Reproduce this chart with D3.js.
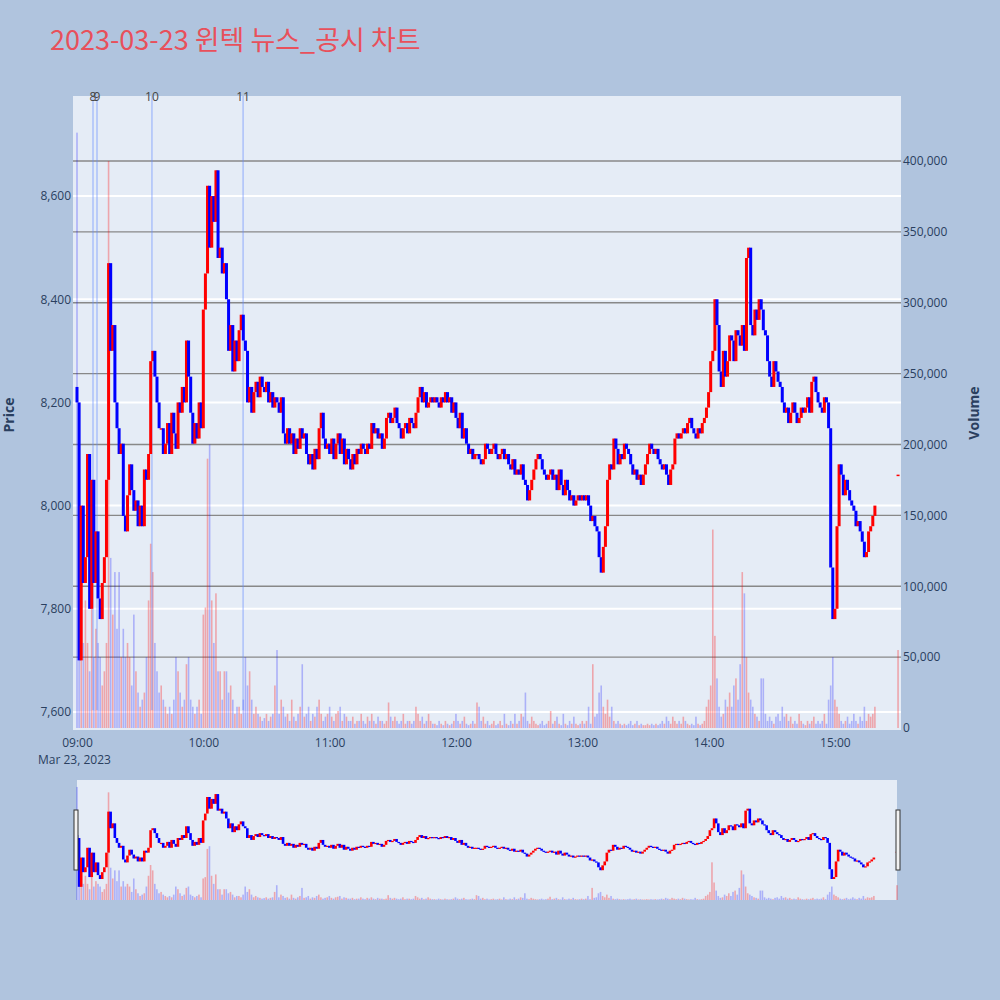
<!DOCTYPE html>
<html><head><meta charset="utf-8">
<script src="https://cdn.jsdelivr.net/npm/d3@7"></script>
<style>body{margin:0;background:#b0c4de}svg{display:block}</style>
</head><body><svg id="c" width="1000" height="1000"></svg>
<script>
const closes = [
8200,7700,8000,7850,7900,8100,7800,8050,7850,7950,
7820,7780,7850,7900,8050,8470,8300,8350,8200,8150,
8100,8120,7980,7950,8020,8080,8030,7990,8010,7960,
8000,7960,8070,8050,8100,8280,8300,8250,8200,8150,
8150,8100,8120,8160,8100,8180,8140,8110,8200,8180,
8230,8200,8320,8250,8180,8120,8160,8130,8200,8150,
8380,8450,8620,8500,8600,8550,8650,8480,8500,8450,
8470,8400,8300,8350,8260,8320,8280,8340,8370,8320,
8300,8200,8230,8180,8220,8240,8210,8250,8230,8220,
8240,8200,8220,8190,8210,8200,8180,8210,8140,8120,
8150,8120,8140,8100,8130,8110,8150,8130,8140,8100,
8080,8100,8070,8110,8090,8150,8180,8130,8110,8120,
8100,8130,8090,8120,8140,8100,8130,8080,8110,8090,
8070,8100,8080,8110,8100,8120,8110,8100,8120,8110,
8160,8140,8150,8130,8140,8110,8130,8170,8180,8160,
8170,8190,8160,8150,8130,8150,8160,8140,8170,8160,
8150,8180,8210,8230,8200,8220,8190,8200,8210,8200,
8210,8200,8190,8210,8200,8220,8200,8210,8180,8200,
8170,8150,8180,8130,8150,8120,8100,8110,8090,8100,
8100,8090,8080,8090,8120,8110,8100,8110,8120,8100,
8090,8100,8110,8090,8100,8080,8070,8090,8060,8070,
8060,8080,8050,8040,8010,8030,8050,8070,8090,8100,
8090,8070,8060,8050,8060,8070,8050,8060,8030,8070,
8040,8020,8050,8030,8010,8020,8000,8010,8020,8010,
8020,8010,8020,8000,7970,7980,7960,7950,7900,7870,
7920,7960,8050,8080,8070,8130,8110,8080,8100,8090,
8120,8110,8100,8080,8060,8070,8050,8060,8040,8060,
8080,8100,8120,8110,8100,8110,8090,8080,8070,8080,
8060,8040,8070,8080,8130,8140,8130,8140,8150,8140,
8160,8170,8150,8140,8130,8150,8140,8160,8170,8190,
8220,8280,8300,8400,8350,8260,8230,8300,8250,8280,
8330,8320,8280,8340,8330,8310,8350,8300,8480,8500,
8350,8330,8380,8360,8400,8380,8340,8330,8280,8250,
8230,8280,8260,8240,8230,8200,8180,8190,8160,8180,
8200,8180,8160,8170,8190,8180,8190,8210,8180,8240,
8250,8220,8200,8190,8180,8210,8200,8150,7880,7780,
7800,7960,8080,8060,8020,8050,8030,8010,8000,7990,
7960,7970,7950,7930,7900,7910,7950,7960,7980,8000];
const firstOpen = 8230;
const closeAuctionPrice = 8060;
const volumes = [
420000,70000,110000,60000,90000,60000,40000,100000,50000,70000,
60000,50000,30000,40000,60000,400000,120000,80000,110000,70000,
110000,50000,70000,50000,60000,50000,30000,80000,40000,25000,
15000,20000,25000,50000,90000,130000,110000,60000,40000,25000,
30000,20000,15000,10000,15000,10000,20000,50000,40000,25000,
15000,20000,45000,50000,20000,15000,10000,15000,20000,10000,
80000,85000,190000,200000,90000,60000,95000,40000,40000,20000,
40000,40000,25000,30000,20000,10000,15000,15000,10000,20000,
50000,30000,40000,20000,10000,15000,10000,8000,5000,7000,
10000,5000,8000,10000,30000,55000,10000,20000,15000,8000,
10000,5000,20000,8000,5000,10000,15000,45000,8000,10000,
15000,5000,10000,8000,15000,20000,10000,5000,8000,10000,
15000,8000,5000,10000,12000,15000,5000,10000,8000,5000,
5000,8000,3000,5000,5000,10000,5000,3000,8000,5000,
10000,5000,3000,8000,5000,5000,3000,5000,18000,8000,
5000,8000,5000,3000,5000,10000,3000,5000,5000,3000,
5000,15000,10000,5000,8000,3000,5000,10000,5000,3000,
3000,2000,5000,3000,2000,5000,3000,2000,3000,5000,
10000,5000,3000,5000,8000,3000,2000,3000,5000,3000,
18000,15000,5000,8000,3000,5000,2000,3000,5000,2000,
3000,5000,2000,10000,3000,2000,5000,3000,10000,3000,
5000,10000,8000,25000,5000,3000,8000,5000,3000,2000,
3000,5000,2000,3000,5000,12000,3000,5000,8000,3000,
2000,10000,3000,2000,5000,3000,8000,3000,2000,3000,
5000,3000,5000,15000,3000,45000,8000,10000,25000,30000,
15000,10000,20000,8000,15000,5000,3000,5000,3000,2000,
3000,2000,3000,5000,2000,3000,5000,2000,3000,2000,
2000,3000,2000,3000,2000,3000,2000,3000,5000,3000,
8000,5000,3000,8000,5000,3000,5000,3000,8000,5000,
3000,2000,3000,2000,8000,3000,2000,3000,5000,15000,
20000,30000,140000,65000,35000,15000,8000,10000,20000,15000,
25000,15000,30000,35000,20000,45000,110000,95000,50000,25000,
20000,15000,10000,8000,5000,35000,35000,10000,5000,8000,
5000,3000,8000,10000,5000,15000,8000,10000,5000,8000,
3000,5000,3000,10000,5000,3000,2000,5000,3000,5000,
8000,3000,5000,3000,5000,10000,3000,20000,30000,50000,
20000,15000,10000,5000,3000,5000,8000,3000,5000,10000,
5000,3000,8000,5000,15000,5000,10000,8000,10000,15000];
const closeAuctionVolume = 55000;
const eventLabels = ["8","9","10","11"];
const eventMinutes = [7.6,9.5,35.6,78.9];
const priceTicks = [7600,7800,8000,8200,8400,8600];
const volumeTicks = [0,50000,100000,150000,200000,250000,300000,350000,400000];

const base = new Date(2023,2,23,9,0);
const t = m => new Date(base.getTime()+m*60000);
const candles = closes.map((c,i)=>{const o=i?closes[i-1]:firstOpen;return {t:t(i),o,c,v:volumes[i]};});
candles.push({t:t(390),o:closeAuctionPrice,c:closeAuctionPrice,v:closeAuctionVolume,auction:true});

const svg = d3.select("#c");
const L=73,R=901,T=96,B=730;
const x = d3.scaleTime().domain([t(-1.9),t(391.4)]).range([L,R]);
const y = d3.scaleLinear().domain([7565,8794]).range([B,T]);
const yv = d3.scaleLinear().domain([-1411,445855]).range([B,T]);
const up = d => d.c>=d.o;

svg.append("text").attr("x",50).attr("y",50).attr("fill","#e8505b").attr("font-family","Noto Sans CJK KR, sans-serif").attr("font-size",27).text("2023-03-23 윈텍 뉴스_공시 차트");
svg.append("rect").attr("x",L).attr("y",T).attr("width",R-L).attr("height",B-T).attr("fill","#e5ecf6");
svg.append("g").selectAll("line").data(priceTicks).join("line").attr("x1",L).attr("x2",R).attr("y1",d=>y(d)).attr("y2",d=>y(d)).attr("stroke","#fff").attr("stroke-width",2);
svg.append("g").selectAll("line").data(volumeTicks.slice(1)).join("line").attr("x1",L).attr("x2",R).attr("y1",d=>yv(d)).attr("y2",d=>yv(d)).attr("stroke","#888").attr("stroke-width",1.3);

// volume
svg.append("g").selectAll("rect").data(candles).join("rect")
 .attr("x",d=>x(d.t)-0.8).attr("width",1.6).attr("y",d=>yv(d.v)).attr("height",d=>yv(0)-yv(d.v))
 .attr("fill",d=>up(d)?"rgba(255,0,0,0.3)":"rgba(0,0,255,0.25)");
// events
const eg = svg.append("g");
eventMinutes.forEach((m,i)=>{
 eg.append("line").attr("x1",x(t(m))).attr("x2",x(t(m))).attr("y1",T).attr("y2",B-20).attr("stroke","rgba(100,140,255,0.45)").attr("stroke-width",1.5);
 eg.append("text").attr("x",x(t(m))).attr("y",T+5).attr("text-anchor","middle").attr("font-family","Open Sans, sans-serif").attr("font-size",12).attr("fill","#444").text(eventLabels[i]);
});
// candles
svg.append("g").selectAll("rect").data(candles).join("rect")
 .attr("x",d=>x(d.t)-1.5).attr("width",3)
 .attr("y",d=>y(Math.max(d.o,d.c))).attr("height",d=>Math.max(1.5,Math.abs(y(d.o)-y(d.c))))
 .attr("fill",d=>up(d)?"#ff0000":"#0000ff");

const font="Open Sans, sans-serif";
const ax = svg.append("g").attr("transform",`translate(0,${B})`).call(d3.axisBottom(x).ticks(d3.timeHour.every(1)).tickFormat(d3.timeFormat("%H:%M")).tickSize(0).tickPadding(8));
ax.select(".domain").remove(); ax.selectAll("text").attr("font-family",font).attr("font-size",12).attr("fill","#2a3f5f");
svg.append("text").attr("x",38).attr("y",764).attr("font-family",font).attr("font-size",12).attr("fill","#2a3f5f").text("Mar 23, 2023");
const ay = svg.append("g").attr("transform",`translate(${L},0)`).call(d3.axisLeft(y).tickValues(priceTicks).tickFormat(d3.format(",")).tickSize(0).tickPadding(2));
ay.select(".domain").remove(); ay.selectAll("text").attr("font-family",font).attr("font-size",12).attr("fill","#2a3f5f");
const avv = svg.append("g").attr("transform",`translate(${R},0)`).call(d3.axisRight(yv).tickValues(volumeTicks).tickFormat(d3.format(",")).tickSize(0).tickPadding(2));
avv.select(".domain").remove(); avv.selectAll("text").attr("font-family",font).attr("font-size",12).attr("fill","#2a3f5f");
svg.append("text").attr("transform","translate(14,415) rotate(-90)").attr("text-anchor","middle").attr("font-family",font).attr("font-weight","bold").attr("font-size",14).attr("fill","#2a3f5f").text("Price");
svg.append("text").attr("transform","translate(979,413) rotate(-90)").attr("text-anchor","middle").attr("font-family",font).attr("font-weight","bold").attr("font-size",14).attr("fill","#2a3f5f").text("Volume");

// range slider
const SL=77,SR=897,ST=780,SB=900;
svg.append("rect").attr("x",SL).attr("y",ST).attr("width",SR-SL).attr("height",SB-ST).attr("fill","#e5ecf6");
const xs = d3.scaleTime().domain([t(0),t(390)]).range([SL,SR]);
const ys = d3.scaleLinear().domain([7565,8794]).range([SB,ST]);
const yvs = d3.scaleLinear().domain([0,445855]).range([SB,ST]);
svg.append("g").selectAll("rect").data(candles).join("rect")
 .attr("x",d=>xs(d.t)-0.8).attr("width",1.6).attr("y",d=>yvs(d.v)).attr("height",d=>SB-yvs(d.v))
 .attr("fill",d=>up(d)?"rgba(255,0,0,0.3)":"rgba(0,0,255,0.25)");
svg.append("g").selectAll("rect").data(candles).join("rect")
 .attr("x",d=>xs(d.t)-1.3).attr("width",2.6)
 .attr("y",d=>ys(Math.max(d.o,d.c))).attr("height",d=>Math.max(1.2,Math.abs(ys(d.o)-ys(d.c))))
 .attr("fill",d=>up(d)?"#ff0000":"#0000ff");
[SL-2,SR].forEach(hx=>svg.append("rect").attr("x",hx-1).attr("y",810).attr("width",4).attr("height",60).attr("fill","#f2f2f2").attr("stroke","#333").attr("stroke-width",1));
</script></body></html>
